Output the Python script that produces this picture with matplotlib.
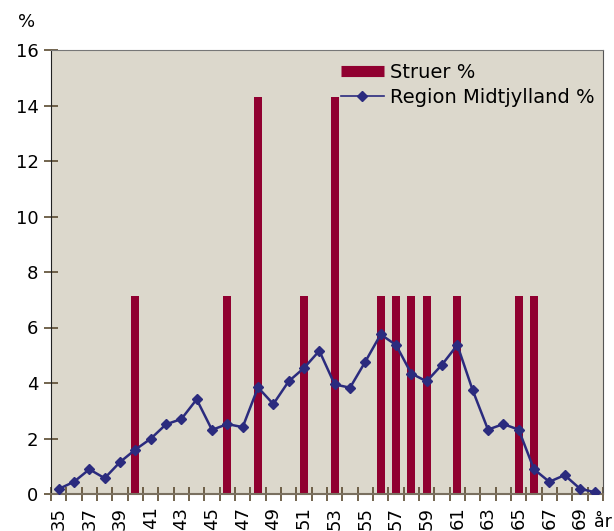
import numpy as np
import matplotlib
matplotlib.use("Agg")
import matplotlib.pyplot as plt
from matplotlib.lines import Line2D

# Ages 35..70
ages = list(range(35, 71))

# Struer % (bars), non-zero only at some ages
struer = {40: 7.14, 46: 7.14, 48: 14.29, 51: 7.14, 53: 14.29,
          56: 7.14, 57: 7.14, 58: 7.14, 59: 7.14, 61: 7.14,
          65: 7.14, 66: 7.14}
struer_pct = [struer.get(a, 0) for a in ages]

# Region Midtjylland % (line)
region_pct = [0.18, 0.44, 0.89, 0.57, 1.15, 1.60, 1.99, 2.51, 2.70, 3.41,
              2.31, 2.52, 2.41, 3.84, 3.24, 4.06, 4.54, 5.16, 3.95, 3.83,
              4.77, 5.75, 5.37, 4.34, 4.06, 4.66, 5.37, 3.74, 2.32, 2.52,
              2.32, 0.89, 0.44, 0.68, 0.19, 0.06]

tick_labels = [str(a) if (a - 35) % 2 == 0 else "" for a in ages]

bar_color = "#900030"
line_color = "#2B2B7E"
bg_color = "#DCD8CC"
tick_color = "#5A4A30"

fig = plt.figure(figsize=(6.14, 5.31), dpi=100)
ax = fig.add_axes([51 / 614, 37 / 531, 552 / 614, 444 / 531])
ax.set_facecolor(bg_color)

x = np.arange(len(ages))
ax.bar(x, struer_pct, width=0.52, color=bar_color, zorder=2)
ax.plot(x, region_pct, color=line_color, lw=1.8, marker="D", markersize=5.5,
        zorder=3)

ax.set_xlim(-0.5, len(ages) - 0.5)
ax.set_ylim(0, 16)
ax.set_yticks(range(0, 17, 2))
ax.tick_params(axis="y", direction="inout", length=10, width=1.2,
               color=tick_color, labelsize=13, pad=4)

ax.set_xticks(x)
ax.set_xticklabels(tick_labels, rotation=90, fontsize=13)
ax.set_xticks(np.arange(-0.5, len(ages), 1), minor=True)
ax.tick_params(axis="x", which="major", length=0, pad=9)
ax.tick_params(axis="x", which="minor", direction="inout", length=10,
               width=1.2, color=tick_color)

ax.spines["left"].set_color("#222222")
ax.spines["bottom"].set_color("#7a7060")
ax.spines["bottom"].set_linewidth(1.5)
ax.spines["top"].set_color("#777777")
ax.spines["right"].set_color("#555555")

fig.text(27 / 614, 1 - 22 / 531, "%", fontsize=13, ha="center", va="center")
fig.text(594 / 614, 1 - 522 / 531, "år", fontsize=12.5, ha="left", va="center")

handles = [Line2D([], [], color=bar_color, lw=8, solid_capstyle="butt"),
           Line2D([], [], color=line_color, lw=1.2, marker="D", markersize=5)]
ax.legend(handles, ["Struer %", "Region Midtjylland %"],
          loc="upper left", bbox_to_anchor=(341 / 614, 1 - 63 / 531),
          bbox_transform=fig.transFigure, frameon=False, fontsize=14,
          handlelength=2.2, handletextpad=0.3, borderpad=0,
          labelspacing=0.3, borderaxespad=0)

fig.savefig("out.png", dpi=100)
